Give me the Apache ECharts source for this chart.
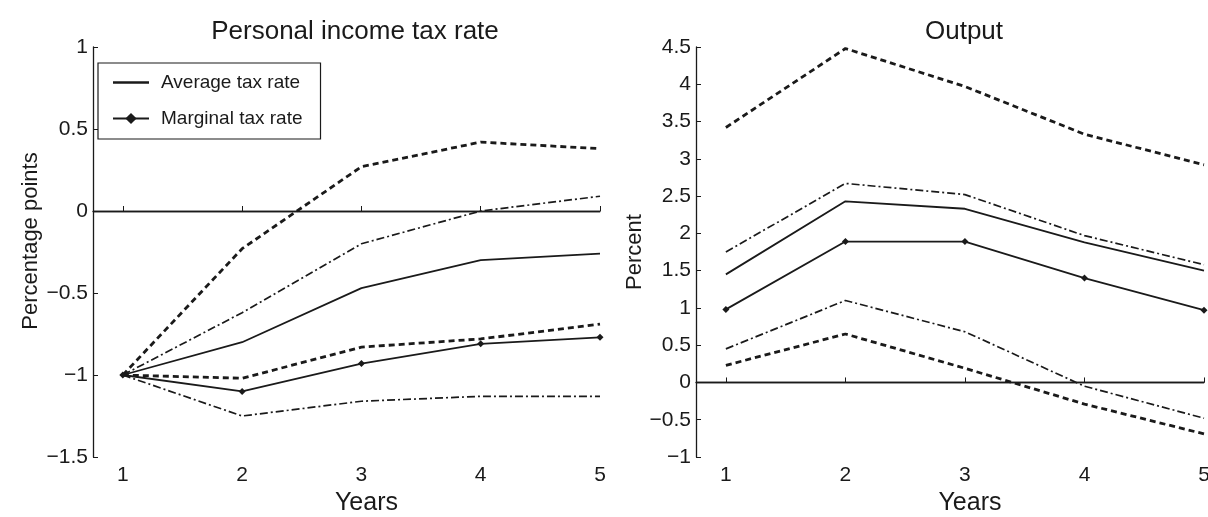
<!DOCTYPE html>
<html>
<head>
<meta charset="utf-8">
<script src="https://cdn.jsdelivr.net/npm/echarts@6/dist/echarts.min.js"></script>
<style>
html,body{margin:0;padding:0;background:#fff;}
#chart{width:1208px;height:517px;}
</style>
</head>
<body>
<div id="chart"></div>
<script>
// Years on the horizontal axis
const years = [1, 2, 3, 4, 5];

// Left panel: Personal income tax rate (percentage points)
const taxAvg        = [-1, -0.80, -0.47, -0.30, -0.26];
const taxAvgUpper   = [-1, -0.23, 0.27, 0.42, 0.38];   // dashed
const taxAvgUpperDD = [-1, -0.62, -0.20, 0.00, 0.09];  // dash-dot
const taxMarg       = [-1, -1.10, -0.93, -0.81, -0.77];
const taxMargDash   = [-1, -1.02, -0.83, -0.78, -0.69]; // dashed
const taxMargDD     = [-1, -1.25, -1.16, -1.13, -1.13]; // dash-dot

// Right panel: Output (percent)
const outUpperDash  = [3.42, 4.48, 3.97, 3.33, 2.92];
const outUpperDD    = [1.75, 2.67, 2.52, 1.97, 1.58];
const outAvg        = [1.45, 2.43, 2.33, 1.88, 1.50];
const outMarg       = [0.98, 1.89, 1.89, 1.40, 0.97];
const outLowerDD    = [0.45, 1.10, 0.68, -0.05, -0.48];
const outLowerDash  = [0.23, 0.65, 0.19, -0.29, -0.69];

// Tick labels
const xTicks = [1, 2, 3, 4, 5];
const leftYTicks = [-1.5, -1, -0.5, 0, 0.5, 1];
const rightYTicks = [-1, -0.5, 0, 0.5, 1, 1.5, 2, 2.5, 3, 3.5, 4, 4.5];

const ink = '#1a1a1a';
const FONT = 'Liberation Sans';
const pair = arr => years.map((x, i) => [x, arr[i]]);
const fmt = v => String(v).replace('-', '\u2212');

function xAxisFor(gi) {
  return {
    type: 'value', gridIndex: gi, min: 0.75, max: 5,
    name: 'Years', nameLocation: 'middle', nameGap: 27,
    nameTextStyle: {fontFamily: FONT, fontSize: 25, color: ink, padding: [0, 0, 0, 40]},
    axisLine: {show: true, lineStyle: {color: ink, width: 1.3}},
    axisTick: {show: true, inside: true, length: 5, customValues: xTicks, lineStyle: {color: ink}},
    axisLabel: {show: true, customValues: xTicks, fontFamily: FONT, fontSize: 21, color: ink, margin: 8},
    splitLine: {show: false}
  };
}
function yAxisFor(gi, min, max, name, gap, pad) {
  return {
    type: 'value', gridIndex: gi, min: min, max: max, interval: 0.5,
    name: name, nameLocation: 'middle', nameGap: gap, nameRotate: 90,
    nameTextStyle: {fontFamily: FONT, fontSize: 22, color: ink, padding: pad},
    axisLine: {show: true, onZero: false, lineStyle: {color: ink, width: 1.3}},
    axisTick: {show: true, inside: true, length: 5, lineStyle: {color: ink}},
    axisLabel: {fontFamily: FONT, fontSize: 21, color: ink, margin: 5, formatter: fmt},
    splitLine: {show: false}
  };
}
const solid = {color: ink, width: 1.8, type: 'solid'};
const dashed = {color: ink, width: 2.8, type: [6, 4]};
const dashdot = {color: ink, width: 1.7, type: [8, 3, 2, 3]};

function line(name, data, gi, style, marker, extra) {
  const s = {
    name: name, type: 'line', xAxisIndex: gi, yAxisIndex: gi,
    data: pair(data), lineStyle: style, itemStyle: {color: ink},
    symbol: marker ? 'diamond' : 'none', symbolSize: marker ? 7 : 0,
    showSymbol: !!marker, silent: true, animation: false, z: 3
  };
  return Object.assign(s, extra || {});
}
const zeroLine = {
  silent: true, symbol: ['none', 'none'], label: {show: false},
  lineStyle: {color: ink, width: 1.3, type: 'solid'},
  data: [{yAxis: 0}]
};

const option = {
  backgroundColor: '#ffffff',
  animation: false,
  title: [
    {text: 'Personal income tax rate', left: 350, top: 14, textAlign: 'center',
     textStyle: {fontFamily: FONT, fontSize: 26, fontWeight: 'normal', color: ink}},
    {text: 'Output', left: 959, top: 14, textAlign: 'center',
     textStyle: {fontFamily: FONT, fontSize: 26, fontWeight: 'normal', color: ink}}
  ],
  legend: {
    data: [
      {name: 'Average tax rate', icon: 'path://M0,0L36,0L36,2.4L0,2.4Z', itemStyle: {color: ink, borderWidth: 0}},
      {name: 'Marginal tax rate'}
    ],
    orient: 'vertical', left: 98, top: 63,
    backgroundColor: '#fff',
    borderColor: ink, borderWidth: 1.2, borderRadius: 0,
    padding: [10, 18, 11, 14],
    itemWidth: 36, itemHeight: 14, itemGap: 17,
    textStyle: {fontFamily: FONT, fontSize: 19, color: ink, padding: [0, 0, 0, 7]},
    selectedMode: false
  },
  grid: [
    {left: 93, top: 47, width: 507, height: 410, outerBoundsMode: 'none', containLabel: false},
    {left: 696, top: 47, width: 508, height: 410, outerBoundsMode: 'none', containLabel: false}
  ],
  xAxis: [xAxisFor(0), xAxisFor(1)],
  yAxis: [
    yAxisFor(0, -1.5, 1, 'Percentage points', 51, [0, 0, 0, 22]),
    yAxisFor(1, -1, 4.5, 'Percent', 40, [0, 0, 0, 0])
  ],
  series: [
    line('Average tax rate', taxAvg, 0, solid, false, {markLine: zeroLine}),
    line('Marginal tax rate', taxMarg, 0, solid, true),
    line('Average upper dashed', taxAvgUpper, 0, dashed, false),
    line('Average upper dash-dot', taxAvgUpperDD, 0, dashdot, false),
    line('Marginal dashed', taxMargDash, 0, dashed, false),
    line('Marginal dash-dot', taxMargDD, 0, dashdot, false),

    line('Output average', outAvg, 1, solid, false, {markLine: zeroLine}),
    line('Output marginal', outMarg, 1, solid, true),
    line('Output upper dashed', outUpperDash, 1, dashed, false),
    line('Output upper dash-dot', outUpperDD, 1, dashdot, false),
    line('Output lower dash-dot', outLowerDD, 1, dashdot, false),
    line('Output lower dashed', outLowerDash, 1, dashed, false)
  ]
};

const chart = echarts.init(document.getElementById('chart'), null, {renderer: 'canvas'});
chart.setOption(option);
</script>
</body>
</html>
